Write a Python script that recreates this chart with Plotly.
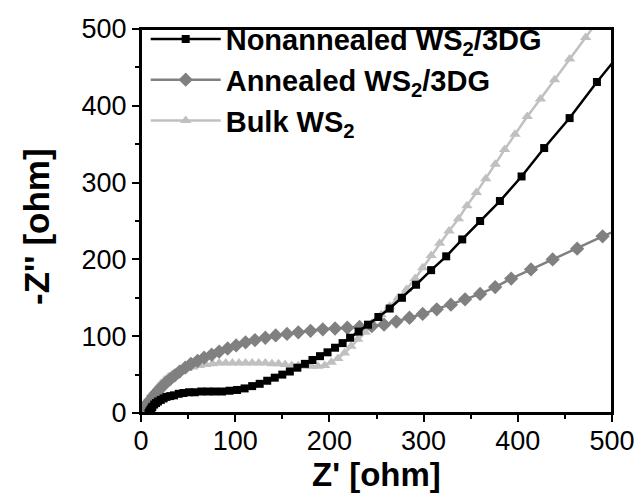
import plotly.graph_objects as go

# ---- data ----
non_x = [8, 9, 10, 11, 12, 14, 16, 18, 21, 24, 27, 31, 35, 40, 45, 51, 57, 64, 71, 78, 86, 94,
         102, 110, 118, 126, 134, 142, 150, 158, 166, 174, 182, 190, 198, 206, 214, 222, 231,
         241, 252, 264, 277, 292, 308, 324, 341, 360, 381, 404, 428, 455, 484, 515]
non_y = [0, 2, 4, 6, 8, 11, 13, 15, 17, 19, 21, 22, 23, 25, 26, 27, 27, 28, 28, 28, 28, 29,
         30, 32, 35, 38, 42, 46, 50, 54, 59, 64, 69, 74, 79, 85, 91, 98, 106,
         115, 125, 136, 150, 167, 186, 204, 226, 250, 276, 308, 345, 384, 431, 478]

ann_x = [0, 2, 4, 6, 8, 10, 13, 16, 19, 23, 27, 31, 36, 41, 47, 53, 60, 67, 75, 83, 92, 101,
         111, 121, 132, 143, 155, 167, 180, 193, 206, 219, 232, 245, 258, 271, 285, 299, 314,
         329, 344, 360, 376, 393, 414, 437, 463, 490, 518]
ann_y = [0, 4, 7, 11, 14, 17, 22, 26, 30, 35, 40, 44, 49, 54, 59, 64, 68, 72, 76, 80, 84, 88,
         92, 95, 98, 101, 103, 105, 107, 109, 110, 111, 112, 113, 115, 119, 124, 129, 135,
         141, 148, 155, 164, 175, 187, 200, 214, 230, 245]

bulk_x = [0, 2, 4, 6, 8, 10, 12, 15, 18, 21, 25, 29, 33, 38, 43, 49, 55, 62, 69, 76, 83, 90,
          97, 104, 111, 118, 125, 132, 139, 146, 153, 160, 167, 174, 181, 188, 195, 202, 209,
          216, 223, 230, 238, 246, 255, 264, 273, 282, 291, 299, 308, 317, 327, 337, 346, 356,
          366, 376, 386, 397, 410, 424, 439, 455, 472, 490]
bulk_y = [0, 4, 8, 12, 16, 20, 24, 29, 34, 38, 43, 47, 50, 53, 56, 58, 60, 62, 63, 64, 65, 65,
          65, 65, 65, 65, 65, 65, 64, 64, 63, 62, 62, 61, 61, 61, 62, 66, 71,
          78, 87, 96, 105, 117, 128, 139, 150, 161, 175, 189, 205, 221, 237, 253, 270, 287,
          305, 324, 343, 363, 386, 409, 434, 461, 489, 519]

names = ["Nonannealed WS<sub>2</sub>/3DG", "Annealed WS<sub>2</sub>/3DG", "Bulk WS<sub>2</sub>"]
colors = ["#000000", "#808080", "#c0c0c0"]
x_title = "Z' [ohm]"
y_title = "-Z'' [ohm]"

FONT = "Arial, 'Liberation Sans', sans-serif"

fig = go.Figure()
# draw bulk first, nonannealed last (on top)
fig.add_trace(go.Scatter(x=bulk_x, y=bulk_y, name=names[2], mode="lines+markers",
                         line=dict(color=colors[2], width=2.5),
                         marker=dict(symbol="triangle-up", size=10, color=colors[2]),
                         legendrank=3))
fig.add_trace(go.Scatter(x=ann_x, y=ann_y, name=names[1], mode="lines+markers",
                         line=dict(color=colors[1], width=2.5),
                         marker=dict(symbol="diamond", size=11, color=colors[1]),
                         legendrank=2))
fig.add_trace(go.Scatter(x=non_x, y=non_y, name=names[0], mode="lines+markers",
                         line=dict(color=colors[0], width=2.5),
                         marker=dict(symbol="square", size=8, color=colors[0]),
                         legendrank=1))

axis_common = dict(
    range=[0, 500], dtick=100, showgrid=False, zeroline=False, automargin=False,
    showline=True, linecolor="black", linewidth=2,
    ticks="outside", ticklen=7, tickwidth=2, tickcolor="black",
    tickfont=dict(family=FONT, size=27, color="black"),
    minor=dict(ticks="outside", ticklen=4, tickwidth=2, tickcolor="black", dtick=50),
)

fig.update_layout(
    width=642, height=497,
    margin=dict(l=133, r=38, t=21, b=92, autoexpand=False),
    paper_bgcolor="white", plot_bgcolor="white",
    showlegend=True,
    legend=dict(x=0.01, y=1.04, xanchor="left", yanchor="top",
                bgcolor="rgba(0,0,0,0)", borderwidth=0,
                font=dict(family=FONT, size=29, color="black", weight="bold"),
                itemwidth=70, tracegroupgap=0),
    xaxis=dict(**axis_common, mirror=True, ticklabelstandoff=-4),
    yaxis=dict(**axis_common, mirror=True),
    yaxis2=dict(range=[0, 500], dtick=100, overlaying="y", side="right", anchor="x",
                showgrid=False, zeroline=False, showline=False, showticklabels=False,
                automargin=False,
                ticks="inside", ticklen=7, tickwidth=2, tickcolor="black",
                minor=dict(ticks="inside", ticklen=4, tickwidth=2, tickcolor="black", dtick=50)),
    shapes=[dict(type="rect", xref="paper", yref="paper", x0=0, x1=1, y0=0, y1=1,
                 line=dict(color="black", width=2), fillcolor="rgba(0,0,0,0)", layer="above")],
    annotations=[
        dict(text="<b>" + x_title + "</b>", xref="paper", yref="paper", x=0.5, y=0,
             xanchor="center", yanchor="middle", yshift=-61, showarrow=False,
             font=dict(family=FONT, size=33, color="black")),
        dict(text="<b>" + y_title + "</b>", xref="paper", yref="paper", x=0, y=0.5,
             xanchor="center", yanchor="middle", xshift=-105, yshift=-6, textangle=-90,
             showarrow=False, font=dict(family=FONT, size=35, color="black")),
    ],
)

fig.write_html("out.html")
